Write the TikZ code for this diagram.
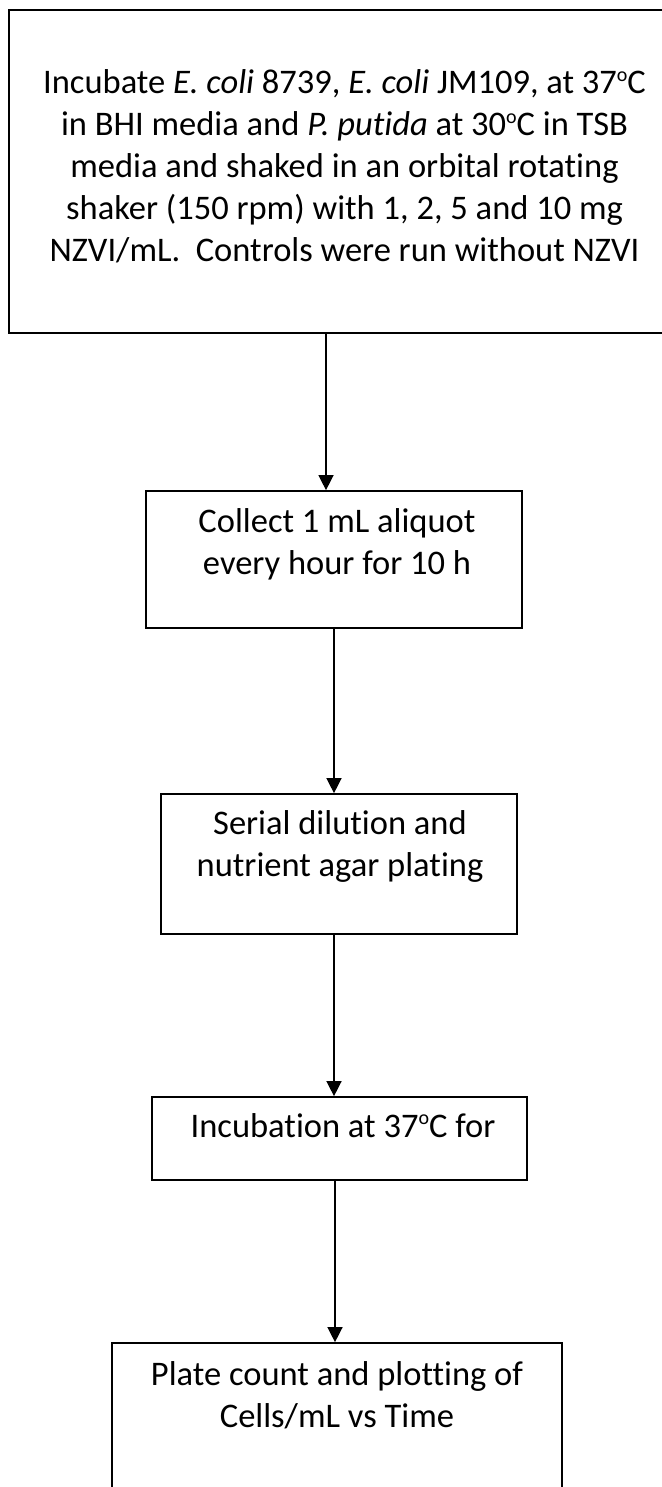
\documentclass[tikz,border=0pt]{standalone}
\usepackage{fontspec}
\setmainfont{Carlito}[Ligatures=NoCommon]
\usetikzlibrary{arrows.meta}
\newcommand{\dego}{\raisebox{0.37em}{\fontsize{20}{20}\selectfont o}}
\begin{document}
\begin{tikzpicture}[x=1pt,y=1pt,
  box/.style={draw=black, line width=1.7pt, inner sep=0pt, fill=none},
  txt/.style={anchor=base, align=center, inner sep=0pt, font=\fontsize{34.5}{42}\selectfont},
  arr/.style={draw=black, line width=1.4pt, -{Triangle[length=15pt,width=15pt]}}]
\useasboundingbox[fill=white] (0,0) rectangle (661,-1487);
% boxes
\node[box, minimum width=691pt, minimum height=323pt] (b1) at (354.5,-171.5) {};
\node[box, minimum width=376pt, minimum height=137pt] (b2) at (334,-559.5) {};
\node[box, minimum width=356pt, minimum height=140pt] (b3) at (339,-864) {};
\node[box, minimum width=375pt, minimum height=83pt] (b4) at (339.5,-1138.5) {};
\node[box, minimum width=450pt, minimum height=157pt] (b5) at (337,-1421.5) {};
% texts (anchor base = baseline of the last line)
\node[txt] (t1) at (344.5,-262) {Incubate \textit{E. coli} 8739, \textit{E. coli} JM109, at 37\dego C\\
in BHI media and \textit{P. putida} at 30\dego C in TSB\\
media and shaked in an orbital rotating\\
shaker (150 rpm) with 1, 2, 5 and 10 mg\\
NZVI/mL.\ \ Controls were run without NZVI};
\node[txt] (t2) at (337,-574) {Collect 1 mL aliquot\\every hour for 10 h};
\node[txt] (t3) at (340,-876) {Serial dilution and\\nutrient agar plating};
\node[txt] (t4) at (343,-1137) {Incubation at 37\dego C for};
\node[txt] (t5) at (337,-1427) {Plate count and plotting of\\Cells/mL vs Time};
% arrows
\coordinate (a1) at (326,0);
\coordinate (a2) at (334,0);
\coordinate (a3) at (334,0);
\coordinate (a4) at (335,0);
\draw[arr] (b1.south -| a1) -- (b2.north -| a1);
\draw[arr] (b2.south -| a2) -- (b3.north -| a2);
\draw[arr] (b3.south -| a3) -- (b4.north -| a3);
\draw[arr] (b4.south -| a4) -- (b5.north -| a4);
\end{tikzpicture}
\end{document}
